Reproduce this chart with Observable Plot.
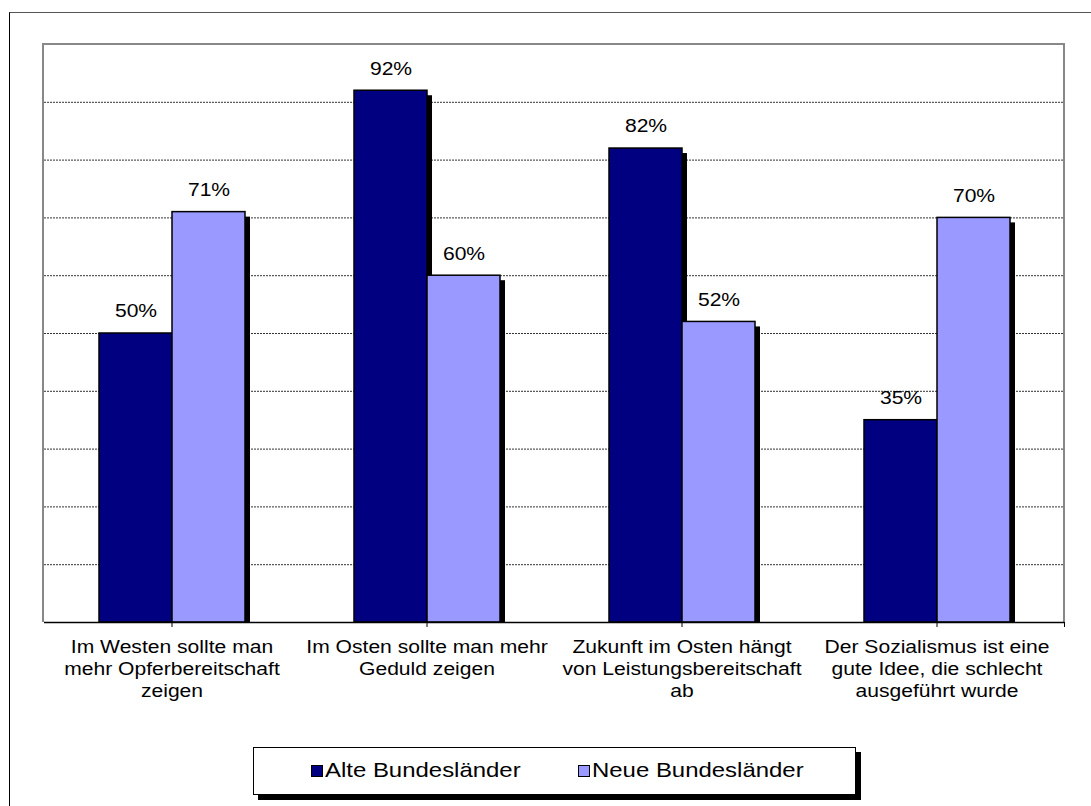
<!DOCTYPE html>
<html>
<head>
<meta charset="utf-8">
<script src="https://cdn.jsdelivr.net/npm/d3@7"></script>
<script src="https://cdn.jsdelivr.net/npm/@observablehq/plot@0.6"></script>
<style>
  html, body { margin: 0; padding: 0; background: #fff; overflow: hidden; }
  #wrap { position: relative; width: 1091px; height: 806px; font-family: "Liberation Sans", Arial, sans-serif; }
  #outer { position: absolute; left: 9px; top: 12px; width: 2000px; height: 2000px;
           border-left: 1px solid #000; border-top: 1px solid #555; pointer-events: none; }
  #chart { position: absolute; left: 0; top: 0; }
  #legend { position: absolute; left: 253px; top: 747px; width: 601px; height: 46px;
            border: 1.5px solid #000; background: #fff; box-shadow: 5px 5px 0 #000; }
  .sw { position: absolute; top: 17px; width: 10px; height: 10px; border: 1px solid #000; }
  .lab { position: absolute; top: 10px; font-size: 21px; line-height: 24px; white-space: nowrap;
         transform: scaleX(1.14); transform-origin: left center; color: #000; }
</style>
</head>
<body>
<div id="wrap">
  <div id="outer"></div>
  <div id="chart"></div>
  <div id="legend"></div>
</div>
<script>
const categories = [
  "Im Westen sollte man\nmehr Opferbereitschaft\nzeigen",
  "Im Osten sollte man mehr\nGeduld zeigen",
  "Zukunft im Osten hängt\nvon Leistungsbereitschaft\nab",
  "Der Sozialismus ist eine\ngute Idee, die schlecht\nausgeführt wurde"
];
const series = ["Alte Bundesländer", "Neue Bundesländer"];
const alte = [50, 92, 82, 35];
const neue = [71, 60, 52, 70];
const colors = ["#000080", "#9999FF"];
const gridTicks = [10, 20, 30, 40, 50, 60, 70, 80, 90];

const data = categories.flatMap((c, i) => [
  {cat: c, series: series[0], value: alte[i]},
  {cat: c, series: series[1], value: neue[i]}
]);

const plot = Plot.plot({
  width: 1091,
  height: 806,
  marginLeft: 42,
  marginRight: 26,
  marginTop: 44,
  marginBottom: 184,
  style: {fontFamily: "'Liberation Sans', Arial, sans-serif", fontSize: "18px", background: "transparent", color: "#000"},
  fx: {domain: categories, padding: 0, label: null},
  x: {domain: series, paddingInner: 0, paddingOuter: 0.74, axis: null},
  y: {domain: [0, 100], axis: null},
  color: {domain: series, range: colors},
  marks: [
    Plot.ruleY(gridTicks, {stroke: "#333", strokeDasharray: "2,1", strokeWidth: 1}),
    Plot.barY(data, {fx: "cat", x: "series", y: "value", fill: "#000", dx: 5, dy: 5, clip: true}),
    Plot.barY(data, {fx: "cat", x: "series", y: "value", fill: "series", stroke: "#000", strokeWidth: 1.5}),
    Plot.text(data, {fx: "cat", x: "series", y: "value", text: d => d.value + "%", dy: -22, fontSize: 18.5, fill: "#000"}),
    Plot.ruleY([0], {stroke: "#000", strokeWidth: 1.5}),
    Plot.axisFx({anchor: "bottom", tickSize: 5, tickPadding: 10, fontSize: 18.5, lineHeight: 1.19, label: null})
  ]
});
document.getElementById("chart").appendChild(plot);

// plot-area frame (grey, top/left/right)
const svgSel = d3.select(plot);
const yScale = plot.scale("y");
const yTop = yScale.apply(100), yBot = yScale.apply(0);
const fx0 = 43, fx1 = 1091 - 26 - 1;
svgSel.insert("path", "g")
  .attr("d", `M${fx0},${yBot} V${yTop} H${fx1} V${yBot}`)
  .attr("fill", "none").attr("stroke", "#888").attr("stroke-width", 2);
svgSel.append("path")
  .attr("d", `M${fx1 + 0.5},${yBot} v5`)
  .attr("stroke", "#000").attr("stroke-width", 1);

// horizontal stretch of text to match the reference
svgSel.selectAll("text").each(function() {
  const t = this.getAttribute("transform");
  if (t) this.setAttribute("transform", t + " scale(1.14,1)");
  else {
    const xx = +this.getAttribute("x") || 0, yy = +this.getAttribute("y") || 0;
    this.setAttribute("transform", `translate(${xx},${yy}) scale(1.14,1) translate(${-xx},${-yy})`);
  }
});

// legend
const legend = document.getElementById("legend");
const swLeft = [57, 324];
series.forEach((s, i) => {
  const sw = document.createElement("div");
  sw.className = "sw";
  sw.style.left = swLeft[i] + "px";
  sw.style.background = colors[i];
  legend.appendChild(sw);
  const lab = document.createElement("div");
  lab.className = "lab";
  lab.style.left = (swLeft[i] + 14) + "px";
  lab.textContent = s;
  legend.appendChild(lab);
});
</script>
</body>
</html>
